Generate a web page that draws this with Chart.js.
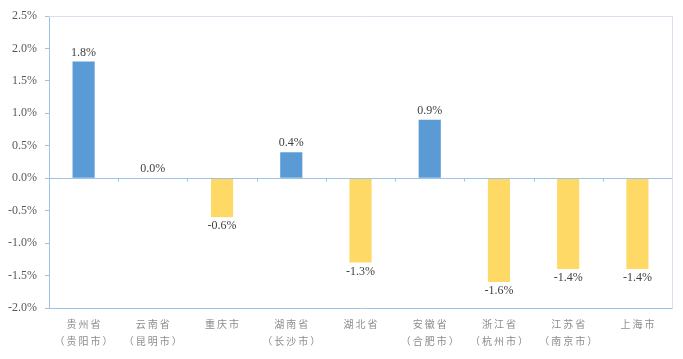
<!DOCTYPE html>
<html>
  <head>
    <title>city change</title>
    <style>
      body { margin: 0; background: #fff; }
      #wrap { width: 683px; height: 359px; }
    </style>
  </head>
  <body>
    <div id="wrap"><canvas id="canvas"></canvas></div>
    <script src="https://cdn.jsdelivr.net/npm/chart.js@4"></script>
    <script>
      // data
      const provinces = ["贵州省", "云南省", "重庆市", "湖南省", "湖北省", "安徽省", "浙江省", "江苏省", "上海市"];
      const capitals = ["贵阳市", "昆明市", "", "长沙市", "", "合肥市", "杭州市", "南京市", ""];
      const values = [1.8, 0.0, -0.6, 0.4, -1.3, 0.9, -1.6, -1.4, -1.4];
      const yTicks = [-2.0, -1.5, -1.0, -0.5, 0.0, 0.5, 1.0, 1.5, 2.0, 2.5];

      const spaced = (s) => s.split("").join("\u2009");
      const labels = provinces.map((p, i) =>
        capitals[i] ? [spaced(p), spaced("（" + capitals[i] + "）")] : [spaced(p), ""]
      );

      const axisBlue = "#9dc3e6";
      const frameGrey = "#d6e0ee";

      // frame, zero line and value labels
      const decor = {
        id: "decor",
        beforeDatasetsDraw(chart) {
          const { ctx, chartArea: a } = chart;
          ctx.save();
          ctx.lineWidth = 1;
          ctx.strokeStyle = frameGrey;
          ctx.beginPath();
          ctx.moveTo(a.left, a.top + 0.5);
          ctx.lineTo(a.right + 0.5, a.top + 0.5);
          ctx.lineTo(a.right + 0.5, a.bottom);
          ctx.stroke();
          ctx.strokeStyle = axisBlue;
          ctx.beginPath();
          ctx.moveTo(a.left, a.bottom + 0.5);
          ctx.lineTo(a.right + 0.5, a.bottom + 0.5);
          ctx.stroke();
          ctx.restore();
        },
        afterDatasetsDraw(chart) {
          const { ctx, chartArea: a, scales } = chart;
          const x = scales.x, y = scales.y;
          const y0 = Math.round(y.getPixelForValue(0)) + 0.5;
          ctx.save();
          ctx.strokeStyle = axisBlue;
          ctx.lineWidth = 1;
          ctx.beginPath();
          ctx.moveTo(a.left, y0);
          ctx.lineTo(a.right, y0);
          const half = (x.getPixelForValue(1) - x.getPixelForValue(0)) / 2;
          for (let i = 1; i < values.length; i++) {
            const bx = Math.round(x.getPixelForValue(i) - half) + 0.5;
            ctx.moveTo(bx, y0);
            ctx.lineTo(bx, y0 + 3);
          }
          ctx.stroke();

          ctx.fillStyle = "#404040";
          ctx.font = "12px 'Liberation Serif', serif";
          ctx.textAlign = "center";
          chart.getDatasetMeta(0).data.forEach((bar, i) => {
            const v = values[i];
            const t = v.toFixed(1) + "%";
            if (v >= 0) {
              ctx.textBaseline = "bottom";
              ctx.fillText(t, bar.x, bar.y - 3);
            } else {
              ctx.textBaseline = "top";
              ctx.fillText(t, bar.x, bar.y + 3);
            }
          });
          ctx.restore();
        },
      };

      const config = {
        type: "bar",
        data: {
          labels: labels,
          datasets: [
            {
              data: values,
              backgroundColor: values.map((v) => (v >= 0 ? "#5b9bd5" : "#ffd966")),
              borderWidth: 0,
              barPercentage: 0.32,
              categoryPercentage: 1,
            },
          ],
        },
        options: {
          responsive: true,
          maintainAspectRatio: false,
          animation: false,
          layout: { padding: { top: 16, right: 11, left: 0, bottom: 0 } },
          plugins: { legend: { display: false }, tooltip: { enabled: false } },
          scales: {
            x: {
              grid: { display: false, drawTicks: false },
              border: { display: false },
              ticks: {
                color: "#8c8c8c",
                font: { family: "'Noto Sans CJK SC'", size: 10, lineHeight: 1.7 },
                padding: 8,
                maxRotation: 0,
                autoSkip: false,
              },
              afterFit(s) { s.height = 51; },
            },
            y: {
              min: -2,
              max: 2.5,
              afterBuildTicks(s) { s.ticks = yTicks.map((v) => ({ value: v })); },
              grid: { drawOnChartArea: false, drawTicks: true, tickLength: 4, color: axisBlue },
              border: { display: true, color: axisBlue },
              ticks: {
                color: "#595959",
                font: { family: "'Liberation Serif', serif", size: 12 },
                padding: 8,
                callback: (v) => v.toFixed(1) + "%",
              },
              afterFit(s) { s.width = 49; },
            },
          },
        },
        plugins: [decor],
      };

      const ctx = document.getElementById("canvas").getContext("2d");
      const chart = new Chart(ctx, config);
    </script>
  </body>
</html>
